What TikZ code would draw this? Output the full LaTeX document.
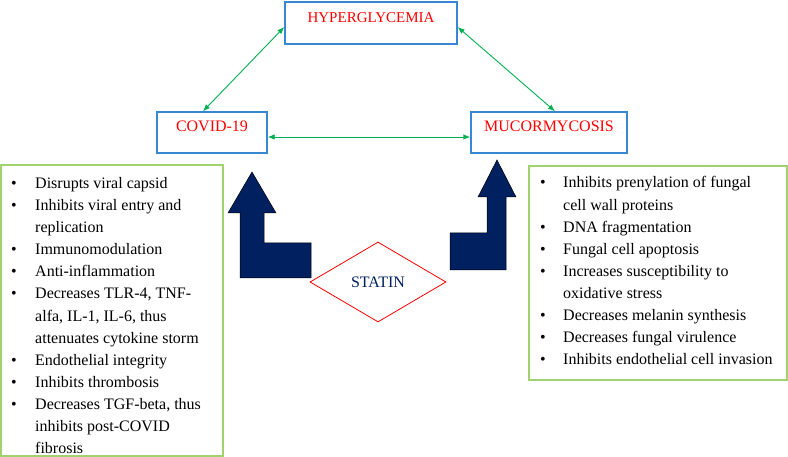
\documentclass[tikz,border=0pt]{standalone}
\usepackage{fontspec}
\setmainfont{Liberation Serif}
\usetikzlibrary{arrows.meta,shapes.geometric}
\definecolor{boxblue}{RGB}{55,135,210}
\definecolor{linkgreen}{RGB}{0,176,80}
\definecolor{listgreen}{RGB}{160,210,110}
\definecolor{navy}{RGB}{0,32,96}
\tikzset{
  titlebox/.style={draw=boxblue, line width=1.4pt, inner sep=0pt, text=red,
    font=\fontsize{16}{19}\selectfont, text height=11pt, text depth=12pt},
  link/.style={draw=linkgreen, line width=0.9pt, {Latex[length=7pt,width=5.5pt]}-{Latex[length=7pt,width=5.5pt]}},
  listbox/.style={draw=listgreen, line width=1.2pt, inner sep=0pt},
  item/.style={anchor=base west, inner sep=0pt, font=\fontsize{16}{22}\selectfont},
  bul/.style={anchor=base, inner sep=0pt, font=\fontsize{16}{22}\selectfont},
  bigarrow/.style={fill=navy, draw=black, line width=0.5pt},
}
\begin{document}
\begin{tikzpicture}[x=1pt,y=-1pt]
\useasboundingbox (0,0) rectangle (788,457);
% title boxes
\node[titlebox, minimum width=172pt, minimum height=42pt, font=\fontsize{15}{18}\selectfont] (H) at (371,23) {HYPERGLYCEMIA};
\node[titlebox, minimum width=110pt, minimum height=41pt] (C) at (212,132.5) {COVID-19};
\node[titlebox, minimum width=156pt, minimum height=41pt] (M) at (549,132.5) {MUCORMYCOSIS};
% connectors
\draw[link] ([yshift=-4pt]H.west) -- ([xshift=-9pt]C.north);
\draw[link] ([yshift=-4pt]H.east) -- ([xshift=6pt]M.north);
\draw[link] ([yshift=-4.5pt]C.east) -- ([yshift=-4.5pt]M.west);
% list boxes
\node[listbox, minimum width=222pt, minimum height=291pt] (LB) at (112,310.5) {};
\node[listbox, minimum width=258pt, minimum height=214pt] (RB) at (658,273) {};
% left list
\begin{scope}
\clip (0,0) rectangle (788,455);
\node[bul] (lb1) at (14,188.5) {\textbullet};
\node[item] (l1) at (35,188.5) {Disrupts viral capsid};
\node[bul] (lb2) at (14,210.6) {\textbullet};
\node[item] (l2) at (35,210.6) {Inhibits viral entry and};
\node[item] (l3) at (35,232.7) {replication};
\node[bul] (lb3) at (14,254.8) {\textbullet};
\node[item] (l4) at (35,254.8) {Immunomodulation};
\node[bul] (lb4) at (14,276.9) {\textbullet};
\node[item] (l5) at (35,276.9) {Anti-inflammation};
\node[bul] (lb5) at (14,299.0) {\textbullet};
\node[item] (l6) at (35,299.0) {Decreases TLR-4, TNF-};
\node[item] (l7) at (35,321.1) {alfa, IL-1, IL-6, thus};
\node[item] (l8) at (35,343.2) {attenuates cytokine storm};
\node[bul] (lb6) at (14,365.3) {\textbullet};
\node[item] (l9) at (35,365.3) {Endothelial integrity};
\node[bul] (lb7) at (14,387.4) {\textbullet};
\node[item] (l10) at (35,387.4) {Inhibits thrombosis};
\node[bul] (lb8) at (14,409.5) {\textbullet};
\node[item] (l11) at (35,409.5) {Decreases TGF-beta, thus};
\node[item] (l12) at (35,431.6) {inhibits post-COVID};
\node[item] (l13) at (35,453.7) {fibrosis};
\end{scope}
% right list
\node[bul] (rb1) at (543,188) {\textbullet};
\node[item] (r1) at (563,188) {Inhibits prenylation of fungal};
\node[item] (r2) at (563,210.1) {cell wall proteins};
\node[bul] (rb2) at (543,232.2) {\textbullet};
\node[item] (r3) at (563,232.2) {DNA fragmentation};
\node[bul] (rb3) at (543,254.3) {\textbullet};
\node[item] (r4) at (563,254.3) {Fungal cell apoptosis};
\node[bul] (rb4) at (543,276.4) {\textbullet};
\node[item] (r5) at (563,276.4) {Increases susceptibility to};
\node[item] (r6) at (563,298.5) {oxidative stress};
\node[bul] (rb5) at (543,320.6) {\textbullet};
\node[item] (r7) at (563,320.6) {Decreases melanin synthesis};
\node[bul] (rb6) at (543,342.7) {\textbullet};
\node[item] (r8) at (563,342.7) {Decreases fungal virulence};
\node[bul] (rb7) at (543,364.8) {\textbullet};
\node[item] (r9) at (563,364.8) {Inhibits endothelial cell invasion};
% big arrows
\draw[bigarrow] (252,172) -- (276,213) -- (264,213) -- (264,243) -- (311,243) -- (311,278) -- (240,278) -- (240,213) -- (228,213) -- cycle;
\draw[bigarrow] (497,160) -- (516,197) -- (506,197) -- (506,270) -- (450,270) -- (450,233) -- (487,233) -- (487,197) -- (478,197) -- cycle;
% statin diamond
\node[diamond, draw=red, line width=0.8pt, aspect=1.7, minimum width=136pt, minimum height=80pt, inner sep=0pt,
  text=navy, font=\fontsize{16}{19}\selectfont] (S) at (378,282) {STATIN};
\end{tikzpicture}
\end{document}
